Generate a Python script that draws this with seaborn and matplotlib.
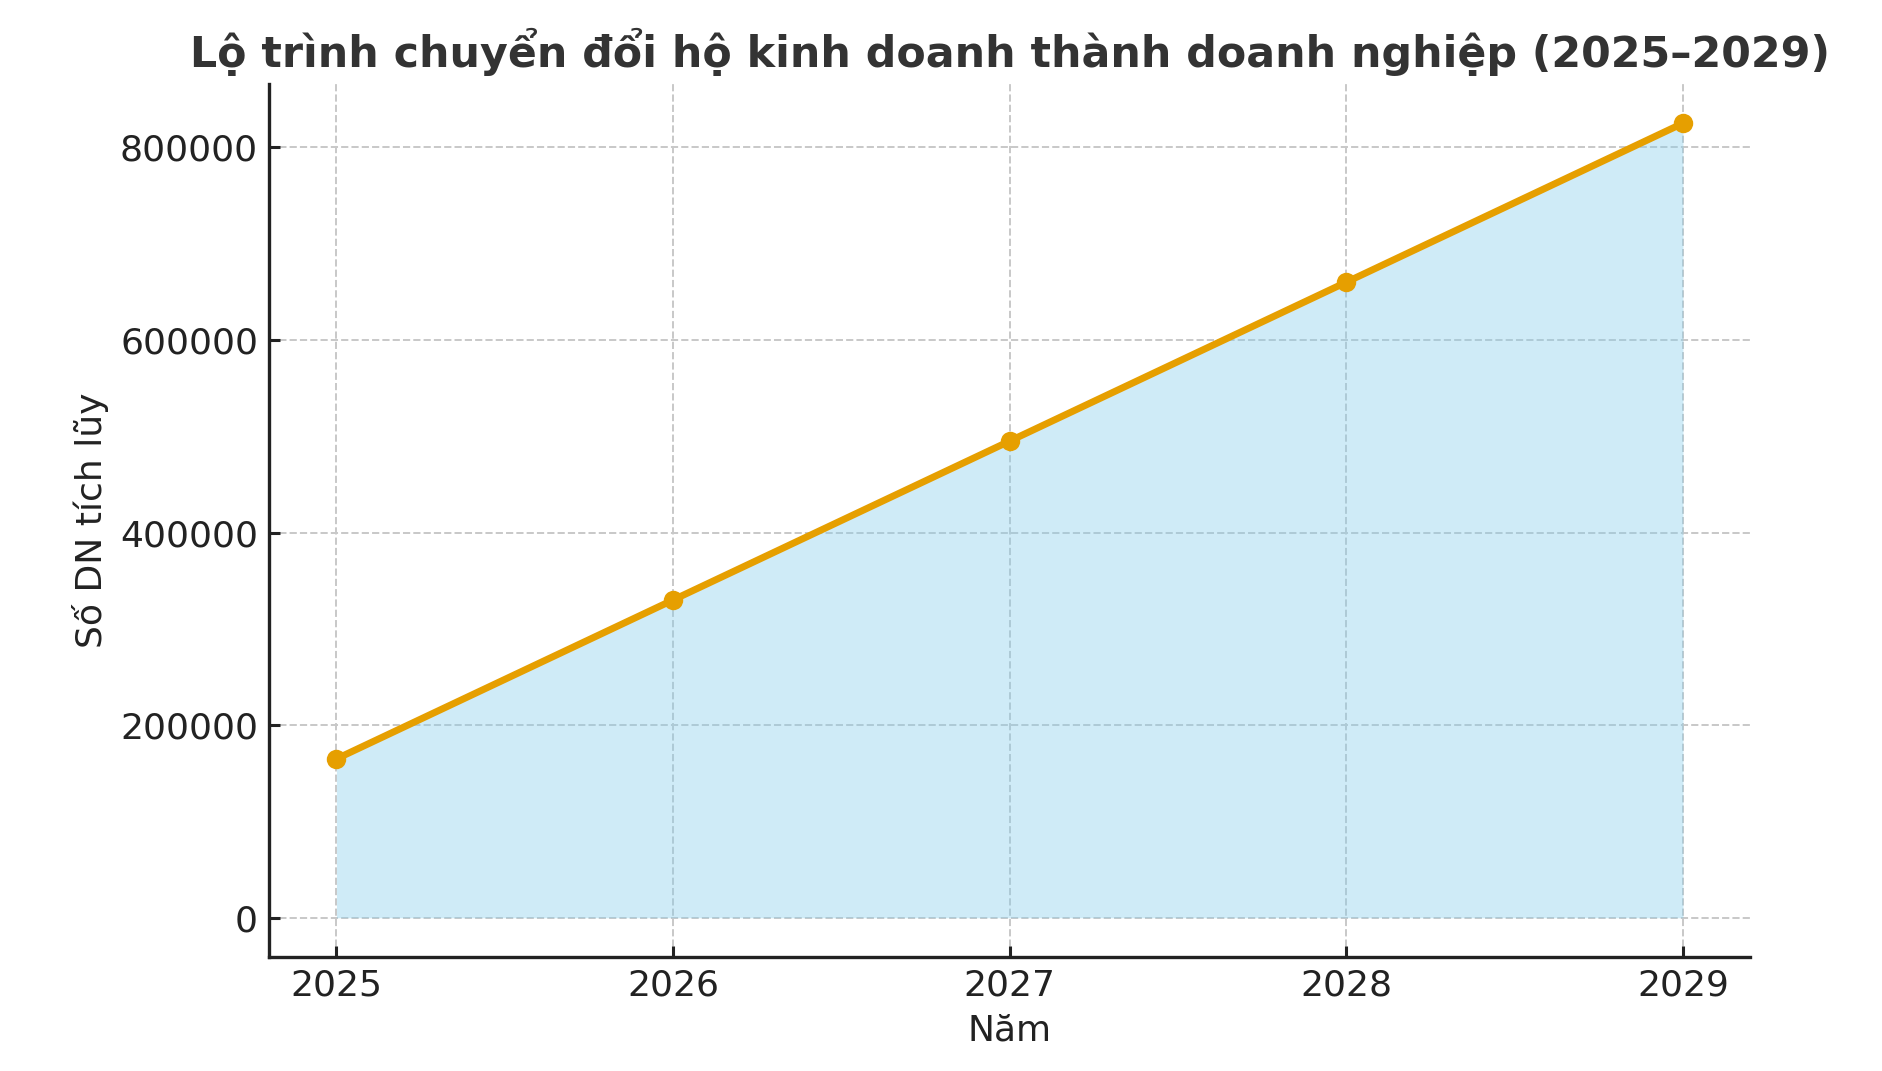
import seaborn as sns
import matplotlib.pyplot as plt
import pandas as pd

# Lộ trình chuyển đổi hộ kinh doanh -> doanh nghiệp
years = [2025, 2026, 2027, 2028, 2029]
so_dn = [165000, 330000, 495000, 660000, 825000]

df = pd.DataFrame({"Năm": years, "Số DN tích lũy": so_dn})

sns.set_style("ticks")
plt.rcParams['font.family'] = ['DejaVu Sans']

fig, ax = plt.subplots(figsize=(9.41, 5.355), dpi=200)

ax.fill_between(df["Năm"], df["Số DN tích lũy"], color="skyblue", alpha=0.4, linewidth=0)
sns.lineplot(data=df, x="Năm", y="Số DN tích lũy", ax=ax, color="#E69F00",
             linewidth=2.5, marker="o", markersize=7, markeredgewidth=0)

ax.grid(True, linestyle="--", color="#c8c8c8", linewidth=0.7)
ax.set_xticks(years)
ax.tick_params(labelsize=13, colors="#222222", width=1.1, length=4,
               direction="in", pad=4)
ax.set_xlabel("Năm", fontsize=13, color="#222222")
ax.set_ylabel("Số DN tích lũy", fontsize=13, color="#222222")
ax.set_title("Lộ trình chuyển đổi hộ kinh doanh thành doanh nghiệp (2025–2029)",
             fontsize=15.4, fontweight="bold", color="#333333")
sns.despine()
for s in ["left", "bottom"]:
    ax.spines[s].set_linewidth(1.2)
    ax.spines[s].set_color("#222222")

fig.subplots_adjust(left=0.143, right=0.930, top=0.922, bottom=0.106)
plt.savefig("out.png", dpi=200)
